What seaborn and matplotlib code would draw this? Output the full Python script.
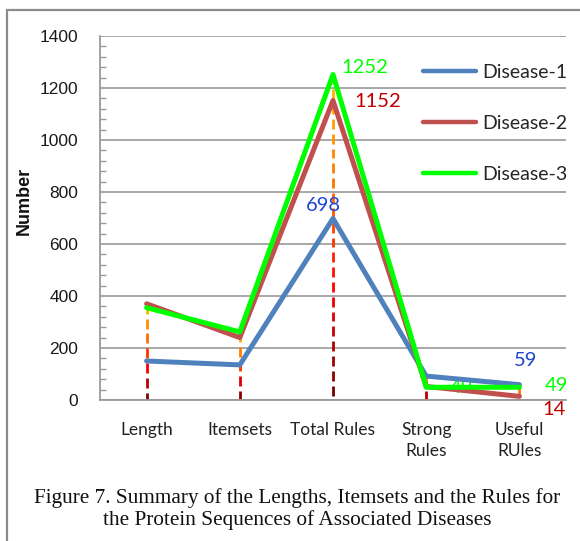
import numpy as np
import pandas as pd
import matplotlib
matplotlib.use("Agg")
import matplotlib.pyplot as plt
import seaborn as sns
from matplotlib.collections import LineCollection
from matplotlib.colors import LinearSegmentedColormap
from matplotlib.patches import Rectangle
from matplotlib.lines import Line2D

# ---- data ----
categories = ["Length", "Itemsets", "Total Rules", "Strong\nRules", "Useful\nRUles"]
series_names = ["Disease-1", "Disease-2", "Disease-3"]
disease1 = [150, 135, 698, 92, 59]
disease2 = [370, 240, 1152, 52, 14]
disease3 = [355, 262, 1252, 49, 49]
y_ticks = [0, 200, 400, 600, 800, 1000, 1200, 1400]
caption = ("Figure 7. Summary of the Lengths, Itemsets and the Rules for\n"
           "the Protein Sequences of Associated Diseases")

colors = {"Disease-1": "#4F81BD", "Disease-2": "#C0504D", "Disease-3": "#00FF00"}
label_colors = {"Disease-1": "#1F45D0", "Disease-2": "#C00000", "Disease-3": "#00FF00"}

values = {"Disease-1": disease1, "Disease-2": disease2, "Disease-3": disease3}
df = pd.DataFrame([
    {"x": i, "value": v, "series": s}
    for s in series_names for i, v in enumerate(values[s])
])

sns.set_style("white")
plt.rcParams["font.family"] = ["Lato", "DejaVu Sans"]

fig = plt.figure(figsize=(5.8, 5.41), dpi=100)
ax = fig.add_axes([100 / 580, 1 - 400 / 541, 466 / 580, 364 / 541])

# ---- drop lines with gradient ----
cmap = LinearSegmentedColormap.from_list(
    "drop", [(0.0, "#FFC000"), (0.35, "#FF7000"), (0.65, "#FF0000"),
             (0.88, "#A00000"), (1.0, "#6B0000")])
dash, gap = 38.0, 19.0
segs, cols = [], []
for i in range(len(categories)):
    top = max(values[s][i] for s in series_names)
    y = top
    while y > 0:
        y2 = max(y - dash, 0)
        segs.append([(i, y), (i, y2)])
        cols.append(cmap(1 - ((y + y2) / 2) / top))
        y = y2 - gap
lc = LineCollection(segs, colors=cols, linewidths=2.0, zorder=2)
ax.add_collection(lc)

# ---- lines ----
sns.lineplot(data=df, x="x", y="value", hue="series", hue_order=series_names,
             palette=colors, linewidth=3.6, ax=ax, legend=False, zorder=4,
             sort=False)

# ---- data labels ----
labels = [
    ("Disease-3", 2, (32, 7)),
    ("Disease-2", 2, (45, -1)),
    ("Disease-1", 2, (-10, 13)),
    ("Disease-1", 4, (6, 24)),
    ("Disease-3", 4, (37, 2)),
    ("Disease-2", 4, (35, -13)),
    ("Disease-3", 3, (35, 0)),
]
for s, i, off in labels:
    v = values[s][i]
    ax.annotate(str(v), (i, v), xytext=off, textcoords="offset pixels",
                ha="center", va="center", color=label_colors[s],
                fontsize=14.5, family=["Lato", "DejaVu Sans"], zorder=3)

# ---- axes styling ----
ax.set_xlim(-0.5, len(categories) - 0.5)
ax.set_ylim(0, 1400)
ax.set_xticks(range(len(categories)))
ax.set_xticklabels(categories, fontsize=12.5, color="#222222", linespacing=1.4)
ax.set_yticks(y_ticks)
ax.set_yticklabels([str(t) for t in y_ticks], fontsize=12.5,
                   family=["Liberation Sans"], color="#1a1a1a")
ax.set_yticks(np.arange(0, 1401, 40), minor=True)
ax.tick_params(axis="x", length=0, pad=16)
ax.tick_params(axis="y", which="major", direction="out", length=4.5,
               width=1.2, color="#9a9a9a", pad=11)
ax.tick_params(axis="y", which="minor", direction="in", length=4.5,
               width=1.0, color="#9a9a9a", left=True)
ax.grid(axis="y", which="major", color="#a0a0a0", linewidth=1.3)
ax.set_axisbelow(True)
for side in ["top", "right"]:
    ax.spines[side].set_visible(False)
for side in ["left", "bottom"]:
    ax.spines[side].set_color("#9a9a9a")
    ax.spines[side].set_linewidth(1.3)
ax.set_xlabel("")
ax.set_ylabel("Number", fontsize=13, fontweight="bold",
              family=["Liberation Sans"], color="#111111")
ax.yaxis.set_label_coords(-0.145, 0.547)

# ---- legend ----
handles = [Line2D([], [], color=colors[s], linewidth=3.2) for s in series_names]
fig.legend(handles, series_names, loc="upper left",
           bbox_to_anchor=(423 / 580, 1 - 64 / 541), frameon=False,
           fontsize=14, borderpad=0, handlelength=2.75, handletextpad=0.3,
           labelspacing=1.75, borderaxespad=0)

# ---- caption ----
fig.text(0.512, 1 - 509 / 541, caption, ha="center", va="center",
         fontsize=15.3, family=["Liberation Serif"], color="#111111",
         linespacing=1.1)

# ---- outer frame ----
fig.add_artist(Rectangle((7 / 580, -0.1), 1.2, 1 - 10 / 541 + 0.1,
                         transform=fig.transFigure, fill=False,
                         edgecolor="#8c8c8c", linewidth=1.6))

fig.savefig("out.png", dpi=100)
